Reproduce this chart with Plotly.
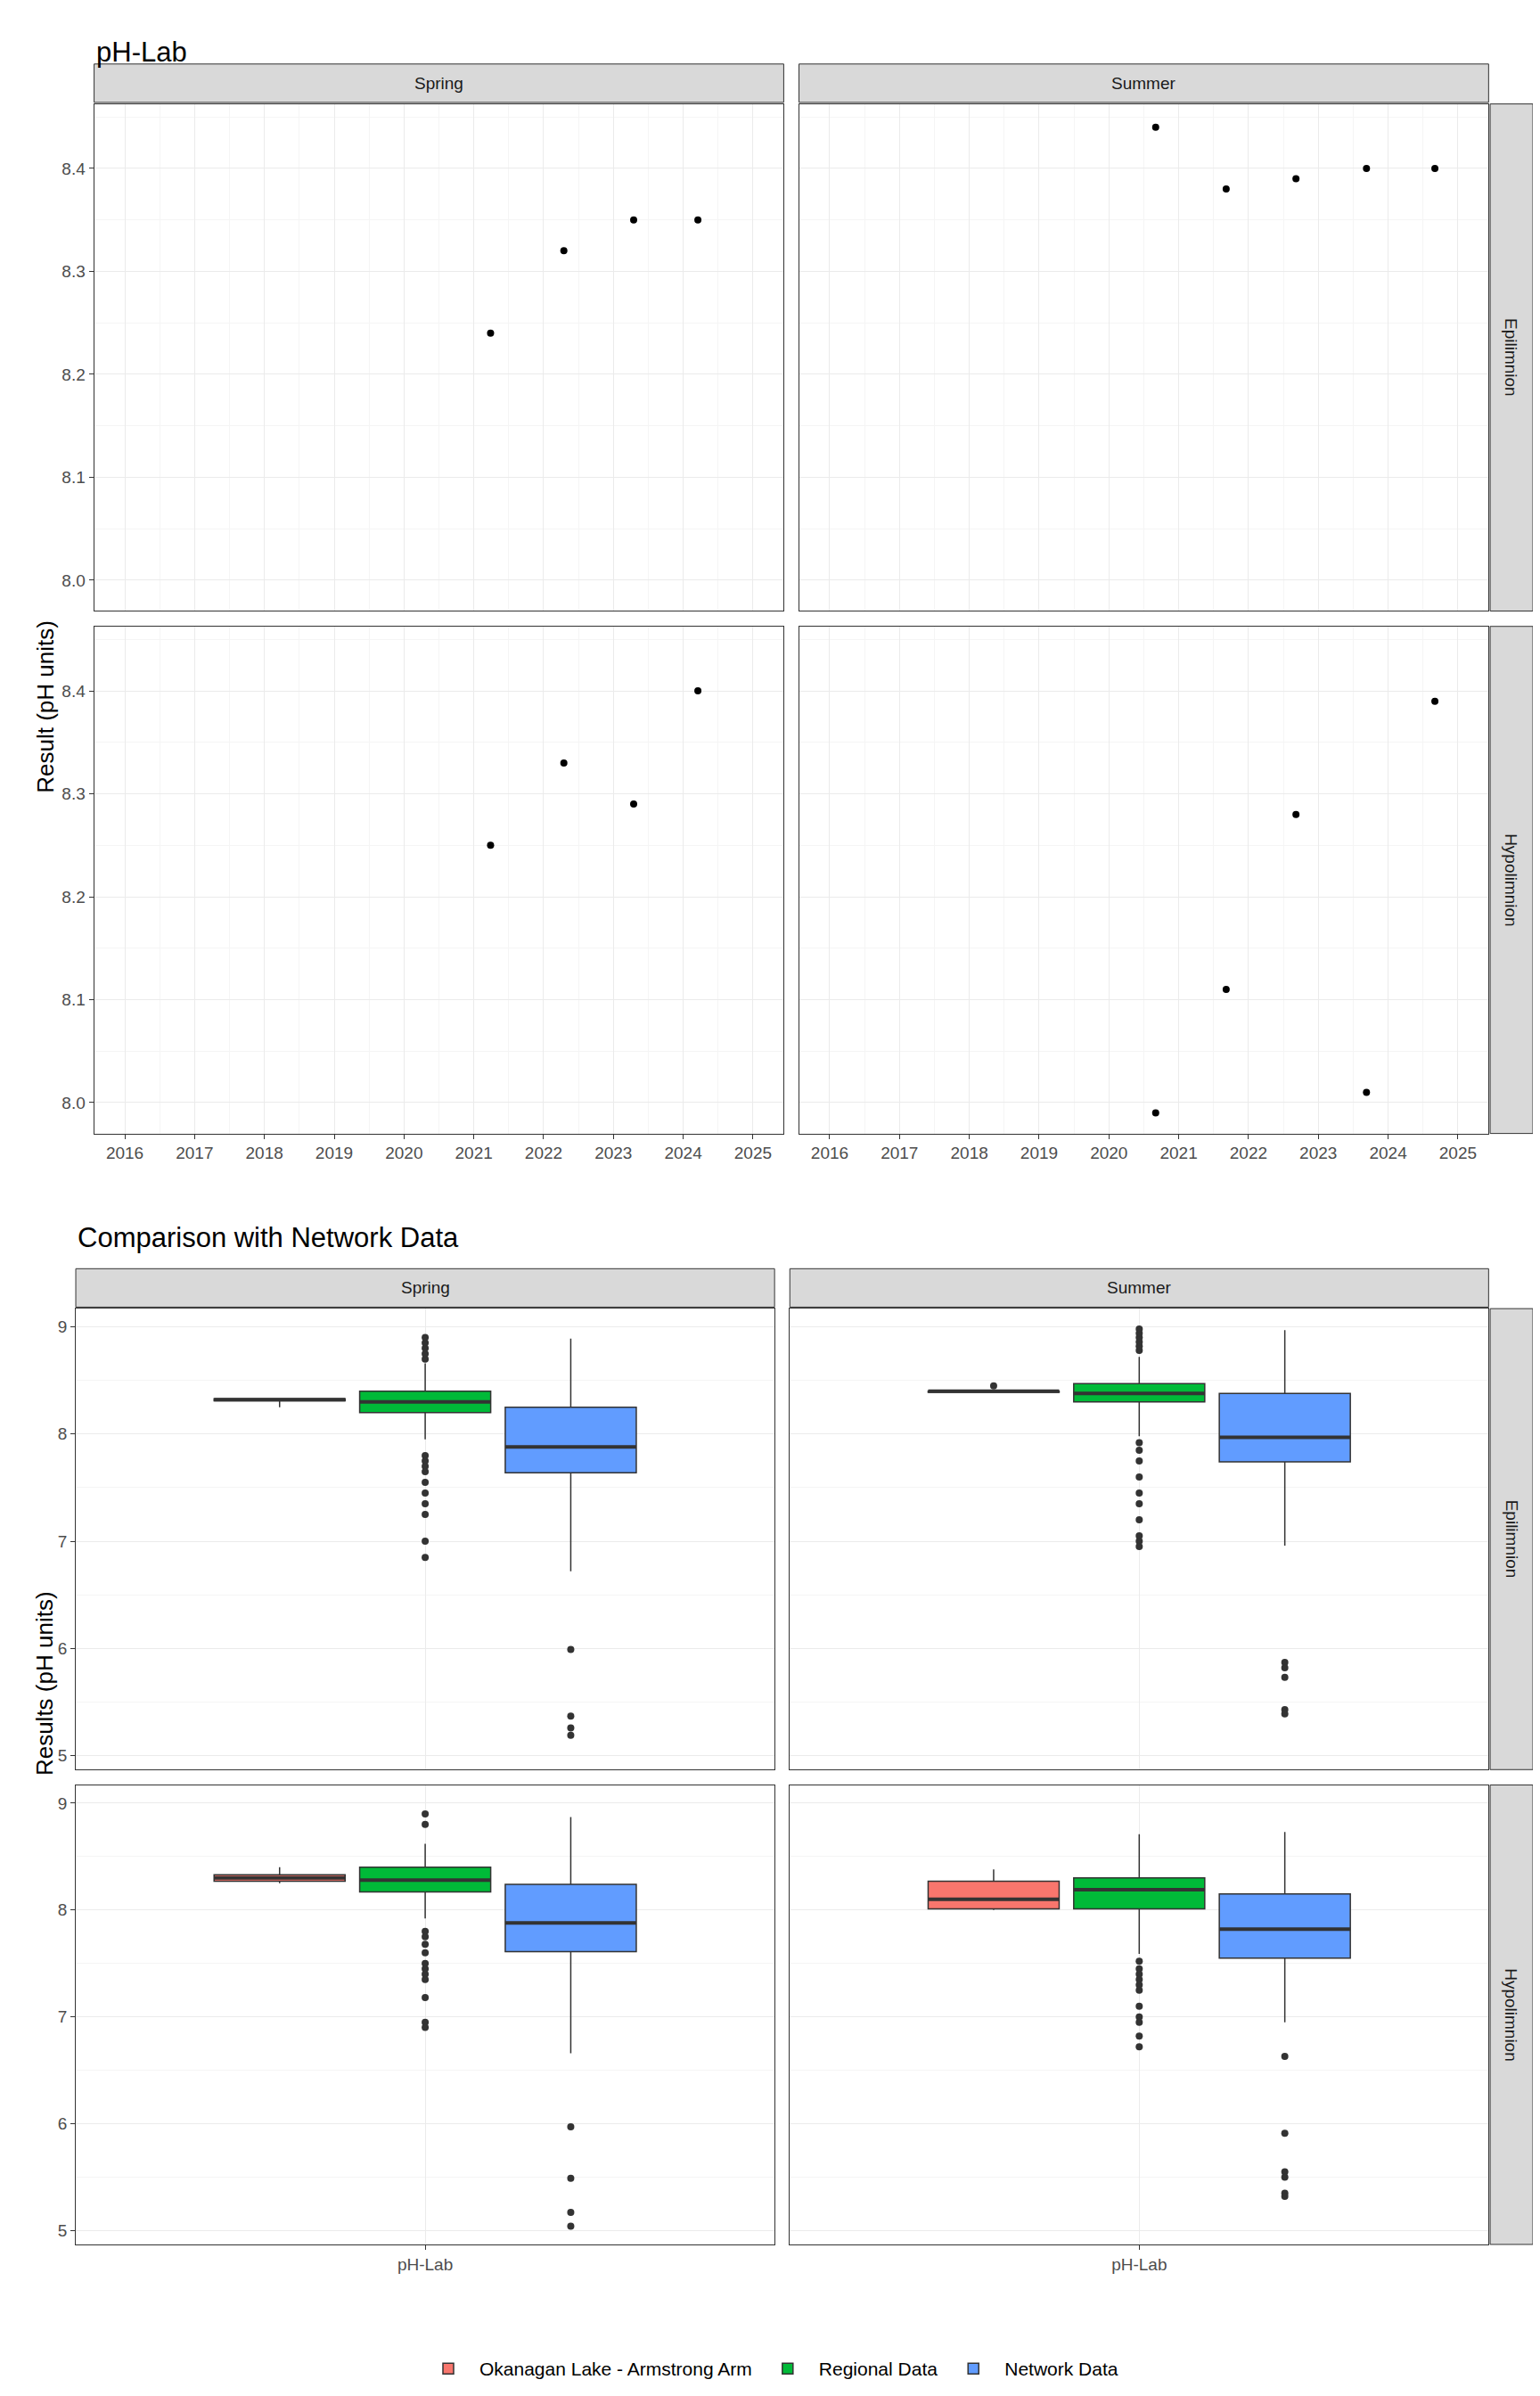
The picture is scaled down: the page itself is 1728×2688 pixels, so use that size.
import plotly.graph_objects as go

# ---- data: pH-Lab time series (year as decimal) ----
spring_epi_x = [2021.24, 2022.29, 2023.29, 2024.21]
spring_epi_y = [8.24, 8.32, 8.35, 8.35]
summer_epi_x = [2020.67, 2021.68, 2022.68, 2023.69, 2024.67]
summer_epi_y = [8.44, 8.38, 8.39, 8.40, 8.40]
spring_hyp_x = [2021.24, 2022.29, 2023.29, 2024.21]
spring_hyp_y = [8.25, 8.33, 8.29, 8.40]
summer_hyp_x = [2020.67, 2021.68, 2022.68, 2023.69, 2024.67]
summer_hyp_y = [7.99, 8.11, 8.28, 8.01, 8.39]
years = list(range(2016, 2026))

# ---- data: box stats [lowerfence, q1, median, q3, upperfence], outliers ----
groups = ["Okanagan Lake - Armstrong Arm", "Regional Data", "Network Data"]
colors = ["#F8766D", "#00BA38", "#619CFF"]
box_spring_epi = [[8.25, 8.31, 8.32, 8.33, 8.33], [7.95, 8.20, 8.30, 8.40, 8.66], [6.72, 7.64, 7.88, 8.25, 8.89]]
out_spring_epi = [[], [8.7, 8.75, 8.8, 8.85, 8.9, 7.8, 7.75, 7.7, 7.65, 7.55, 7.45, 7.35, 7.25, 7.0, 6.85],
                  [5.99, 5.37, 5.26, 5.19]]
box_summer_epi = [[8.39, 8.39, 8.40, 8.40, 8.41], [7.98, 8.30, 8.38, 8.47, 8.72], [6.96, 7.74, 7.97, 8.38, 8.97]]
out_summer_epi = [[8.45], [8.78, 8.82, 8.86, 8.9, 8.94, 8.98, 7.92, 7.85, 7.75, 7.6, 7.45, 7.35, 7.2, 7.05, 7.0, 6.95],
                  [5.87, 5.82, 5.73, 5.43, 5.39]]
box_spring_hyp = [[8.25, 8.27, 8.30, 8.33, 8.40], [7.92, 8.17, 8.28, 8.40, 8.62], [6.66, 7.61, 7.88, 8.24, 8.87]]
out_spring_hyp = [[], [8.8, 8.9, 7.8, 7.75, 7.68, 7.6, 7.5, 7.45, 7.4, 7.35, 7.18, 6.95, 6.9],
                  [5.97, 5.49, 5.17, 5.04]]
box_summer_hyp = [[8.00, 8.01, 8.10, 8.27, 8.38], [7.59, 8.01, 8.19, 8.30, 8.71], [6.95, 7.55, 7.82, 8.15, 8.73]]
out_summer_hyp = [[], [7.52, 7.45, 7.4, 7.35, 7.3, 7.25, 7.1, 7.0, 6.95, 6.82, 6.72],
                  [6.63, 5.91, 5.55, 5.5, 5.35, 5.32]]

W, H = 1712, 2672


def px_x(v):
    return v / 1000


def px_y(v):
    return 1 - v / 1550


fig = go.Figure()
layout = {}
shapes = []
annotations = []
tick_font = dict(size=19, color="#4D4D4D", family="Liberation Sans")

# top panels: (axis index, xdomain px, ydomain px, x data, y data, show x ticks, show y ticks)
top_panels = [
    (1, (57, 509), (63, 393), spring_epi_x, spring_epi_y, False, True),
    (2, (519, 971), (63, 393), summer_epi_x, summer_epi_y, False, False),
    (3, (57, 509), (403, 733), spring_hyp_x, spring_hyp_y, True, True),
    (4, (519, 971), (403, 733), summer_hyp_x, summer_hyp_y, True, False),
]
for i, xd, yd, xs, ys, sx, sy in top_panels:
    xa, ya = "xaxis%d" % i, "yaxis%d" % i
    layout[xa] = dict(domain=[px_x(xd[0]), px_x(xd[1])], anchor="y%d" % i, range=[2015.56, 2025.44],
                      tickvals=years, showticklabels=sx, ticks="outside" if sx else "", ticklen=5,
                      tickcolor="#333333", tickfont=tick_font, showgrid=True, gridcolor="#EBEBEB",
                      minor=dict(dtick=0.5, tick0=2015.5, showgrid=True, gridcolor="#F5F5F5"),
                      showline=True, mirror=True, linecolor="#333333", zeroline=False)
    layout[ya] = dict(domain=[px_y(yd[1]), px_y(yd[0])], anchor="x%d" % i, range=[7.97, 8.4627],
                      tickvals=[8.0, 8.1, 8.2, 8.3, 8.4], ticktext=["8.0", "8.1", "8.2", "8.3", "8.4"],
                      showticklabels=sy, ticks="outside" if sy else "", ticklen=5, tickcolor="#333333",
                      tickfont=tick_font, showgrid=True, gridcolor="#EBEBEB",
                      minor=dict(dtick=0.05, tick0=7.95, showgrid=True, gridcolor="#F5F5F5"),
                      showline=True, mirror=True, linecolor="#333333", zeroline=False)
    fig.add_trace(go.Scatter(x=xs, y=ys, mode="markers", marker=dict(color="black", size=8),
                             xaxis="x%d" % i, yaxis="y%d" % i, showlegend=False))

# bottom panels
bottom_panels = [
    (5, (45, 503), (847, 1147), box_spring_epi, out_spring_epi, False, True),
    (6, (513, 971), (847, 1147), box_summer_epi, out_summer_epi, False, False),
    (7, (45, 503), (1157, 1456), box_spring_hyp, out_spring_hyp, True, True),
    (8, (513, 971), (1157, 1456), box_summer_hyp, out_summer_hyp, True, False),
]
positions = [0.75, 1.0, 1.25]
box_w = 0.225
for i, xd, yd, stats, outs, sx, sy in bottom_panels:
    xa, ya = "xaxis%d" % i, "yaxis%d" % i
    layout[xa] = dict(domain=[px_x(xd[0]), px_x(xd[1])], anchor="y%d" % i, range=[0.4, 1.6],
                      tickvals=[1], ticktext=["pH-Lab"], showticklabels=sx, ticks="outside" if sx else "",
                      ticklen=5, tickcolor="#333333", tickfont=tick_font, showgrid=True, gridcolor="#EBEBEB",
                      showline=True, mirror=True, linecolor="#333333", zeroline=False)
    layout[ya] = dict(domain=[px_y(yd[1]), px_y(yd[0])], anchor="x%d" % i, range=[4.87, 9.17],
                      tickvals=[5, 6, 7, 8, 9], showticklabels=sy, ticks="outside" if sy else "", ticklen=5,
                      tickcolor="#333333", tickfont=tick_font, showgrid=True, gridcolor="#EBEBEB",
                      minor=dict(dtick=0.5, tick0=4.5, showgrid=True, gridcolor="#F5F5F5"),
                      showline=True, mirror=True, linecolor="#333333", zeroline=False)
    for g in range(3):
        lo, q1, med, q3, up = stats[g]
        fig.add_trace(go.Box(x=[positions[g]], lowerfence=[lo], q1=[q1], median=[med], q3=[q3],
                             upperfence=[up], width=box_w, fillcolor=colors[g], boxpoints=False,
                             line=dict(color="#333333", width=1.5), whiskerwidth=0,
                             name=groups[g], legendgroup=groups[g], showlegend=(i == 5),
                             xaxis="x%d" % i, yaxis="y%d" % i))
        # thick median bar like ggplot
        fig.add_trace(go.Scatter(x=[positions[g] - box_w / 2, positions[g] + box_w / 2], y=[med, med],
                                 mode="lines", line=dict(color="#333333", width=4), showlegend=False,
                                 hoverinfo="skip", xaxis="x%d" % i, yaxis="y%d" % i))
        if outs[g]:
            fig.add_trace(go.Scatter(x=[positions[g]] * len(outs[g]), y=outs[g], mode="markers",
                                     marker=dict(color="#333333", size=8), showlegend=False,
                                     xaxis="x%d" % i, yaxis="y%d" % i))


def strip(x0, x1, y0, y1, text, angle=0):
    shapes.append(dict(type="rect", xref="paper", yref="paper", x0=px_x(x0), x1=px_x(x1),
                       y0=px_y(y1), y1=px_y(y0), fillcolor="#D9D9D9", line=dict(color="#333333", width=1)))
    annotations.append(dict(x=px_x((x0 + x1) / 2), y=px_y((y0 + y1) / 2), xref="paper", yref="paper",
                            text=text, showarrow=False, textangle=angle, yanchor="middle", xanchor="center",
                            font=dict(size=19, color="#1A1A1A", family="Liberation Sans")))


strip(57, 509, 37, 62, "Spring")
strip(519, 971, 37, 62, "Summer")
strip(972, 1000, 63, 393, "Epilimnion", 90)
strip(972, 1000, 403, 733, "Hypolimnion", 90)
strip(45, 503, 821, 846, "Spring")
strip(513, 971, 821, 846, "Summer")
strip(972, 1000, 847, 1147, "Epilimnion", 90)
strip(972, 1000, 1157, 1456, "Hypolimnion", 90)

title_font = dict(size=31, color="black", family="Liberation Sans")
axis_font = dict(size=26, color="black", family="Liberation Sans")
annotations += [
    dict(x=px_x(57), y=px_y(18), xref="paper", yref="paper", text="pH-Lab", showarrow=False,
         xanchor="left", font=title_font),
    dict(x=px_x(45), y=px_y(801), xref="paper", yref="paper", text="Comparison with Network Data",
         showarrow=False, xanchor="left", font=title_font),
    dict(x=px_x(15), y=px_y(398), xref="paper", yref="paper", text="Result (pH units)",
         showarrow=False, textangle=-90, font=axis_font),
    dict(x=px_x(15), y=px_y(1152), xref="paper", yref="paper", text="Results (pH units)",
         showarrow=False, textangle=-90, font=axis_font),
]

fig.update_layout(
    width=W, height=H, margin=dict(l=0, r=0, t=0, b=0),
    plot_bgcolor="white", paper_bgcolor="white",
    shapes=shapes, annotations=annotations,
    legend=dict(orientation="h", x=0.5, xanchor="center", y=px_y(1537), yanchor="middle",
                itemwidth=60, tracegroupgap=40,
                font=dict(size=21, color="black", family="Liberation Sans")),
    **layout,
)
fig.write_html("out.html")
